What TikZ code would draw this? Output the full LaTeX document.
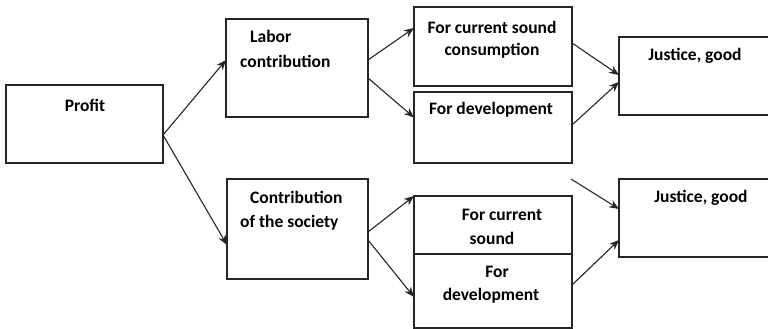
\documentclass[tikz,border=0pt]{standalone}
\usepackage{fontspec}
\setmainfont{Carlito}
\usetikzlibrary{arrows.meta}
\begin{document}
\begin{tikzpicture}[x=1pt,y=-1pt,
  box/.style={draw=black!85, line width=1.2pt, inner sep=0pt, outer sep=0pt, anchor=north west},
  txt/.style={font=\bfseries\fontsize{17.5}{24}\selectfont, inner sep=0pt, align=center},
  arr/.style={draw=black!85, line width=1.1pt, -{Stealth[length=10pt,width=8pt]}},
  ln/.style={draw=black!85, line width=1.1pt}]
\useasboundingbox (0,0) rectangle (768,329);
% boxes
\node[box, minimum width=157pt, minimum height=78pt] (profit) at (6,85) {};
\node[box, minimum width=142pt, minimum height=98pt] (labor) at (226,19) {};
\node[box, minimum width=141pt, minimum height=100pt] (soc) at (227,179) {};
\node[box, minimum width=158pt, minimum height=79pt] (cur1) at (414,7) {};
\node[box, minimum width=158pt, minimum height=71pt] (dev1) at (414,92) {};
\node[box, minimum width=158pt, minimum height=58pt] (cur2) at (414,196) {};
\node[box, minimum width=158pt, minimum height=74pt] (dev2) at (414,254) {};
\node[box, minimum width=154pt, minimum height=78pt] (just1) at (619,37) {};
\node[box, minimum width=154pt, minimum height=78pt] (just2) at (619,179) {};
% texts
\node[txt] (tprofit) at (85,105) {Profit};
\node[txt, anchor=base west] (tlabor1) at (250,43) {Labor};
\node[txt, anchor=base west] (tlabor2) at (240,67) {contribution};
\node[txt, anchor=base west] (tsoc1) at (250,203) {Contribution};
\node[txt, anchor=base west] (tsoc2) at (240,227) {of the society};
\node[txt] (tcur1a) at (492,27) {For current sound};
\node[txt] (tcur1b) at (492,51) {consumption};
\node[txt] (tdev1) at (491,110) {For development};
\node[txt] (tjust1) at (695,56) {Justice, good};
\node[txt] (tjust2) at (701,198) {Justice, good};
\node[txt] (tcur2a) at (502,215) {For current};
\node[txt] (tcur2b) at (492,238) {sound};
\node[txt] (tdev2a) at (497,272) {For};
\node[txt] (tdev2b) at (491,296) {development};
% arrows
\draw[arr] ([yshift=-11pt]profit.east) -- ([yshift=8pt]labor.west);
\draw[arr] ([yshift=-11pt]profit.east) -- ([yshift=-16pt]soc.west);
\draw[arr] ([yshift=8pt]labor.east) -- ([yshift=18.5pt]cur1.west);
\draw[arr] ([yshift=-10pt]labor.east) -- ([yshift=10pt]dev1.west);
\draw[arr] ([yshift=-3pt]soc.east) -- (cur2.north west);
\draw[arr] ([yshift=-11pt]soc.east) -- ([yshift=-6pt]dev2.west);
\draw[arr] ([yshift=3.5pt]cur1.east) -- ([yshift=1pt]just1.west);
\draw[arr] ([yshift=2.5pt]dev1.east) -- ([yshift=-6pt]just1.west);
\coordinate (free) at (571,179);
\draw[arr] (free) -- ([yshift=9pt]just2.west);
\draw[arr] ([yshift=6pt]dev2.east) -- ([yshift=-22pt]just2.west);
\end{tikzpicture}
\end{document}
